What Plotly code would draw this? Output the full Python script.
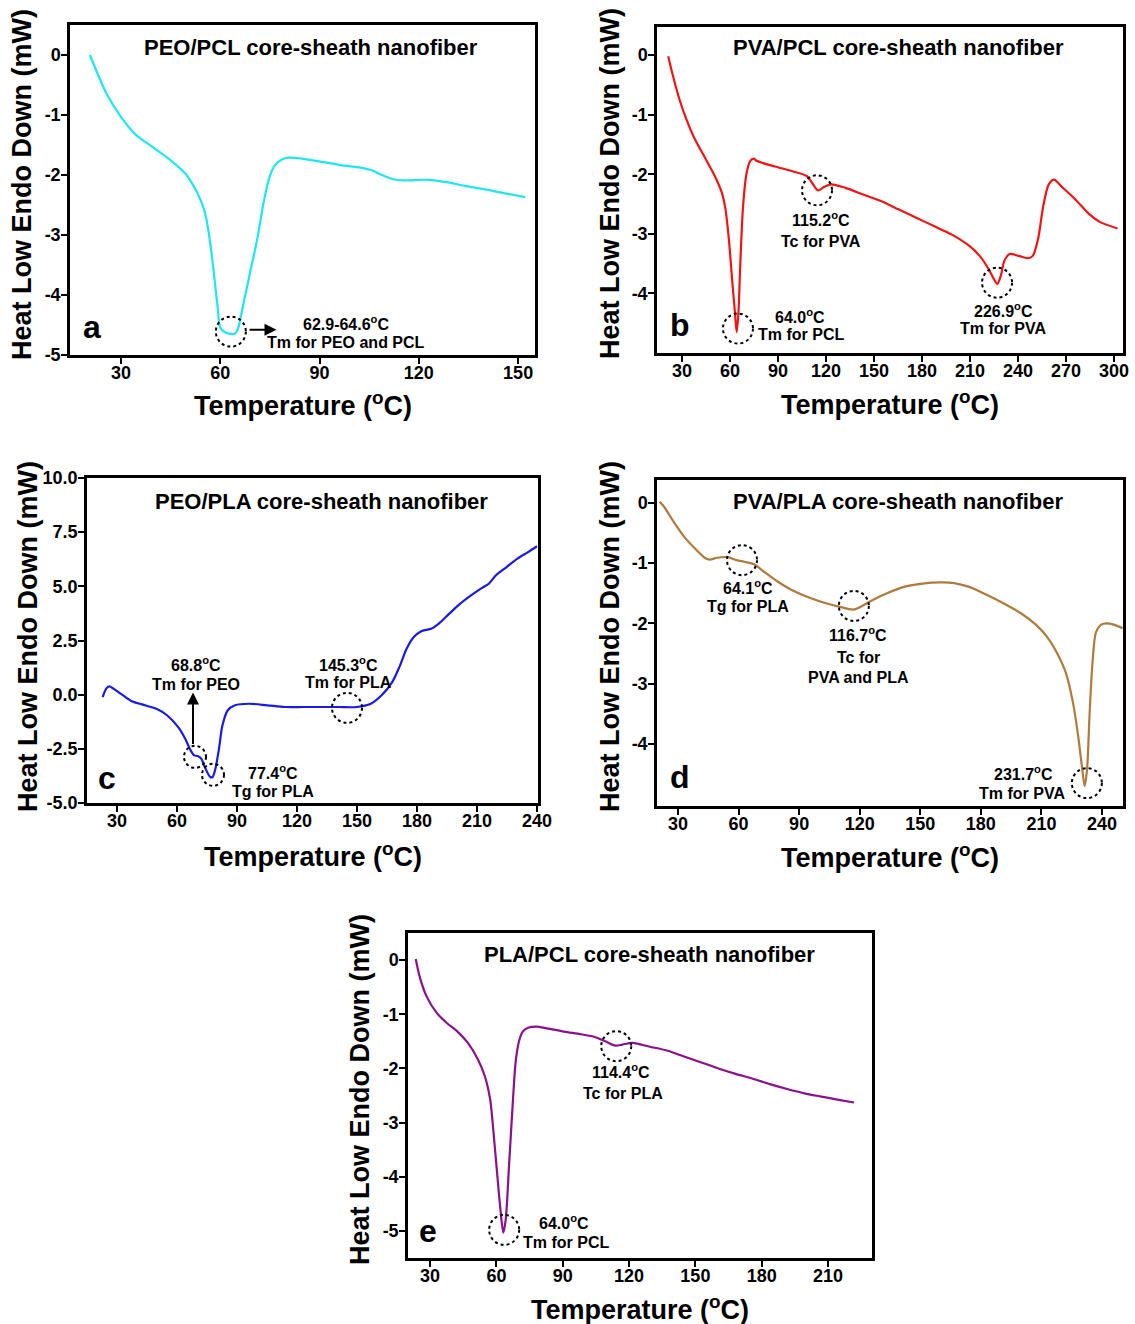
import plotly.graph_objects as go

W, H = 1135, 1324
FONT = "Liberation Sans, Arial, sans-serif"

# ---------------- data ----------------
a_T = [20.6, 25.7, 30, 34.3, 39.7, 45.1, 49.5, 52.7, 54.9, 55.9, 57.0, 58.1, 59.2, 60, 61.4, 64.05, 65.1,
       66.8, 68.9, 71.1, 73.2, 74.9, 76.5, 78.6, 80.8, 85.1, 90.5, 95.9, 101.4, 105.7, 108.9, 112.2, 115.4,
       123, 128.4, 133.8, 139.2, 144.6, 152.2]
a_Q = [0, -0.65, -1.03, -1.32, -1.54, -1.76, -1.98, -2.26, -2.54, -2.76, -3.15, -3.65, -4.2, -4.54, -4.62,
       -4.65, -4.6, -4.2, -3.65, -3.09, -2.43, -2.03, -1.84, -1.74, -1.71, -1.73, -1.78, -1.83, -1.87, -1.92,
       -2.0, -2.07, -2.09, -2.08, -2.12, -2.18, -2.23, -2.29, -2.37]

b_T = [21.4, 24.0, 28.5, 32.9, 37.3, 43.9, 50.5, 54.9, 57.2, 59.3, 61.5, 63.1, 64.2, 65.3, 66.4, 68.2, 70.4,
       72.6, 74.8, 77.0, 88.1, 99.1, 108, 111.2, 115, 119, 123.4, 132.2, 143.2, 154.3, 165.3, 176.4, 187.4,
       198.4, 209.4, 216, 221.6, 224.9, 227.1, 229.3, 231.5, 234.8, 240.4, 245.9, 249.2, 252.5, 255.8, 259.2,
       262.5, 266.9, 275.7, 284.5, 291.1, 302.2]
b_Q = [-0.02, -0.31, -0.75, -1.09, -1.37, -1.7, -2.03, -2.31, -2.59, -3.09, -3.82, -4.32, -4.65, -4.32, -3.54,
       -2.53, -1.98, -1.78, -1.74, -1.78, -1.87, -1.95, -2.03, -2.14, -2.27, -2.21, -2.17, -2.23, -2.34, -2.45,
       -2.59, -2.73, -2.87, -3.01, -3.2, -3.37, -3.59, -3.76, -3.84, -3.7, -3.45, -3.34, -3.37, -3.41, -3.37,
       -3.09, -2.53, -2.17, -2.09, -2.2, -2.42, -2.67, -2.8, -2.91]

c_T = [22.85, 24.6, 26.1, 28.2, 31.8, 37.1, 42.5, 49.7, 55.0, 60.5, 64.1, 66.8, 68.6, 70.3, 72.1, 73.9, 76.6,
       77.8, 79.2, 81.0, 82.7, 85.4, 89.0, 96.1, 105.1, 114, 123, 131.9, 140.8, 150, 156.9, 162.3, 167.6,
       171.2, 174.8, 178.4, 181.9, 187.3, 190.9, 196.2, 201.6, 207.0, 212.3, 215.9, 219.5, 224.8, 230.2,
       235.5, 240]
c_Q = [-0.11, 0.28, 0.38, 0.28, 0.05, -0.29, -0.45, -0.65, -0.95, -1.49, -2.03, -2.57, -2.8, -2.83, -2.95,
       -3.34, -3.8, -3.8, -3.42, -2.49, -1.42, -0.72, -0.49, -0.42, -0.49, -0.57, -0.57, -0.57, -0.57, -0.57,
       -0.42, -0.03, 0.58, 1.28, 2.12, 2.66, 2.92, 3.05, 3.28, 3.74, 4.2, 4.58, 4.92, 5.12, 5.51, 5.89, 6.28,
       6.58, 6.85]

d_T = [20.9, 23.0, 28.2, 33.5, 38.8, 43.2, 45.8, 49.3, 54.6, 59, 63.3, 67.7, 72.1, 79.1, 86.1, 94.9, 103.7,
       110.7, 116.8, 121.2, 126.5, 133.5, 142.3, 151.1, 159.8, 166.8, 173.9, 182.6, 191.4, 200.2, 207.2,
       212.5, 217.7, 222.1, 225.6, 228.2, 230.0, 231.4, 232.6, 233.8, 235.3, 237, 239.6, 242.3, 245.8, 250.2]
d_Q = [0.02, -0.06, -0.33, -0.58, -0.77, -0.91, -0.94, -0.91, -0.9, -0.95, -0.98, -1.02, -1.13, -1.3, -1.44,
       -1.57, -1.67, -1.73, -1.77, -1.71, -1.61, -1.5, -1.39, -1.34, -1.32, -1.33, -1.39, -1.52, -1.67, -1.84,
       -2.02, -2.21, -2.49, -2.82, -3.31, -3.87, -4.36, -4.7, -4.42, -3.54, -2.65, -2.15, -2.02, -2.0, -2.02,
       -2.08]

e_T = [23.5, 25.3, 28.4, 33.1, 37.8, 42.4, 47.1, 51.7, 54.8, 57.2, 58.7, 60.3, 61.8, 63.1, 64.2, 65.7, 67.3,
       68.8, 70.4, 71.9, 74.3, 78.1, 82.8, 90.6, 98.3, 104.5, 109.2, 113.9, 117, 121.6, 129.4, 137.1, 144.9,
       152.7, 160.4, 168.2, 176, 183.7, 191.5, 199.3, 207, 214.8, 221.8]
e_Q = [0.02, -0.31, -0.67, -0.98, -1.17, -1.32, -1.53, -1.84, -2.15, -2.58, -3.19, -3.93, -4.6, -5.03, -4.79,
       -3.8, -2.7, -1.84, -1.47, -1.32, -1.25, -1.23, -1.26, -1.32, -1.37, -1.42, -1.5, -1.58, -1.56, -1.53,
       -1.6, -1.67, -1.78, -1.89, -2.0, -2.1, -2.19, -2.29, -2.38, -2.46, -2.52, -2.58, -2.63]

titles = ["PEO/PCL core-sheath nanofiber", "PVA/PCL core-sheath nanofiber", "PEO/PLA core-sheath nanofiber",
          "PVA/PLA core-sheath nanofiber", "PLA/PCL core-sheath nanofiber"]
letters = ["a", "b", "c", "d", "e"]
colors = ["#1EE6F0", "#F01414", "#1A1AE6", "#B07A3C", "#8C108C"]

a_xticks = [30, 60, 90, 120, 150]
b_xticks = [30, 60, 90, 120, 150, 180, 210, 240, 270, 300]
c_xticks = [30, 60, 90, 120, 150, 180, 210, 240]
d_xticks = [30, 60, 90, 120, 150, 180, 210, 240]
e_xticks = [30, 60, 90, 120, 150, 180, 210]
a_yticks = [0, -1, -2, -3, -4, -5]
b_yticks = [0, -1, -2, -3, -4]
c_yticks = [10.0, 7.5, 5.0, 2.5, 0.0, -2.5, -5.0]
d_yticks = [0, -1, -2, -3, -4]
e_yticks = [0, -1, -2, -3, -4, -5]

# ---------------- layout geometry (pixels) ----------------
panels = [
    dict(T=a_T, Q=a_Q, box=(70, 25, 535, 355), xr=[14.6, 155.1], yr=[-5.0, 0.5], xt=a_xticks, yt=a_yticks, yfmt="%d",
         letter=(92, 327), title=(311, 47), xtitle=(303, 404), ytitle=(22, 185)),
    dict(T=b_T, Q=b_Q, box=(657, 27, 1123, 353), xr=[14.4, 305.6], yr=[-5.0, 0.47], xt=b_xticks, yt=b_yticks, yfmt="%d",
         letter=(680, 325), title=(898, 47), xtitle=(890, 403), ytitle=(610, 184)),
    dict(T=c_T, Q=c_Q, box=(87, 478, 538, 803), xr=[15, 240.5], yr=[-5.0, 10.0], xt=c_xticks, yt=c_yticks, yfmt="%.1f",
         letter=(107, 778), title=(321, 501), xtitle=(313, 855), ytitle=(28, 637)),
    dict(T=d_T, Q=d_Q, box=(657, 480, 1123, 806), xr=[19.6, 250.4], yr=[-5.03, 0.38], xt=d_xticks, yt=d_yticks, yfmt="%d",
         letter=(680, 777), title=(898, 501), xtitle=(890, 856), ytitle=(610, 637)),
    dict(T=e_T, Q=e_Q, box=(408, 933, 872, 1258), xr=[20, 229.9], yr=[-5.5, 0.5], xt=e_xticks, yt=e_yticks, yfmt="%d",
         letter=(428, 1231), title=(649, 954), xtitle=(640, 1308), ytitle=(360, 1090)),
]


def px(x, y):
    return x / W, 1 - y / H


def label(x, y, text, size, angle=0):
    lx, ly = px(x, y)
    return dict(x=lx, y=ly, xref="paper", yref="paper", xanchor="center", yanchor="middle",
                text="<b>%s</b>" % text, textangle=angle, showarrow=False,
                font=dict(family=FONT, size=size, color="black"))


fig = go.Figure()
annotations = []
shapes = []

for i, p in enumerate(panels):
    n = "" if i == 0 else str(i + 1)
    xa, ya = "x" + n, "y" + n
    x0, y0, x1, y1 = p["box"]
    fig.add_trace(go.Scatter(x=p["T"], y=p["Q"], mode="lines", xaxis=xa, yaxis=ya,
                             line=dict(color=colors[i], width=2.2, shape="spline", smoothing=0.8),
                             showlegend=False, hoverinfo="skip"))
    common = dict(showline=True, linecolor="black", linewidth=2.5, mirror=True, ticks="outside",
                  ticklen=6, tickwidth=2, tickcolor="black", showgrid=False, zeroline=False,
                  automargin=False, tickfont=dict(family=FONT, size=18, color="black", weight="bold"))
    fig.layout["xaxis" + n] = dict(domain=[x0 / W, x1 / W], range=p["xr"], anchor=ya, ticklabelstandoff=-6,
                                   tickvals=p["xt"], ticktext=[str(v) for v in p["xt"]], **common)
    fig.layout["yaxis" + n] = dict(domain=[1 - y1 / H, 1 - y0 / H], range=p["yr"], anchor=xa, ticklabelstandoff=-3,
                                   tickvals=p["yt"], ticktext=[p["yfmt"] % v for v in p["yt"]], **common)

    annotations.append(label(*p["title"], titles[i], 22))
    annotations.append(label(*p["letter"], letters[i], 32))
    annotations.append(label(*p["xtitle"], "Temperature (<sup>o</sup>C)", 27))
    annotations.append(label(*p["ytitle"], "Heat Low Endo Down (mW)", 27, -90))

# ---------------- labels near events ----------------
labels = [
    ((346, 323), "62.9-64.6<sup>o</sup>C"), ((346, 342), "Tm for PEO and PCL"),
    ((800, 316), "64.0<sup>o</sup>C"), ((801, 334), "Tm for PCL"),
    ((821, 219), "115.2<sup>o</sup>C"), ((821, 242), "Tc for PVA"),
    ((1003, 310), "226.9<sup>o</sup>C"), ((1003, 329), "Tm for PVA"),
    ((196, 664), "68.8<sup>o</sup>C"), ((196, 684), "Tm for PEO"),
    ((348, 664), "145.3<sup>o</sup>C"), ((348, 682), "Tm for PLA"),
    ((273, 772), "77.4<sup>o</sup>C"), ((273, 791), "Tg for PLA"),
    ((748, 587), "64.1<sup>o</sup>C"), ((748, 606), "Tg for PLA"),
    ((858, 634), "116.7<sup>o</sup>C"), ((858, 657), "Tc for"), ((858, 677), "PVA and PLA"),
    ((1023, 773), "231.7<sup>o</sup>C"), ((1022, 793), "Tm for PVA"),
    ((564, 1222), "64.0<sup>o</sup>C"), ((566, 1242), "Tm for PCL"),
    ((621, 1071), "114.4<sup>o</sup>C"), ((623, 1093), "Tc for PLA"),
]
for (x, y), t in labels:
    annotations.append(label(x, y, t, 16))

# dashed circles at events (data coordinates, pixel size)
circles = [
    ("x", "y", 63.2, -4.61, 15),
    ("x2", "y2", 65.0, -4.59, 15), ("x2", "y2", 114.4, -2.27, 15), ("x2", "y2", 226.9, -3.82, 15),
    ("x3", "y3", 69.0, -2.87, 11), ("x3", "y3", 78.0, -3.7, 11), ("x3", "y3", 145.0, -0.61, 15),
    ("x4", "y4", 61.7, -0.95, 15), ("x4", "y4", 117.1, -1.71, 15), ("x4", "y4", 232.5, -4.65, 15),
    ("x5", "y5", 63.5, -4.98, 15), ("x5", "y5", 114.2, -1.59, 15),
]
for xr, yr, cx, cy, r in circles:
    shapes.append(dict(type="circle", xref=xr, yref=yr, xsizemode="pixel", ysizemode="pixel",
                       xanchor=cx, yanchor=cy, x0=-r, x1=r, y0=-r, y1=r,
                       line=dict(color="black", width=2, dash="dot")))

# arrows
annotations.append(dict(x=77.0, y=-4.58, ax=68.4, ay=-4.58, xref="x", yref="y", axref="x", ayref="y",
                        text="", showarrow=True, arrowhead=2, arrowsize=1.2, arrowwidth=2, arrowcolor="black"))
annotations.append(dict(x=68.0, y=0.1, ax=68.0, ay=-2.35, xref="x3", yref="y3", axref="x3", ayref="y3",
                        text="", showarrow=True, arrowhead=2, arrowsize=1.2, arrowwidth=2, arrowcolor="black"))

fig.update_layout(width=W, height=H, margin=dict(l=0, r=0, t=0, b=0), paper_bgcolor="white",
                  plot_bgcolor="white", annotations=annotations, shapes=shapes, template="none",
                  font=dict(family=FONT, color="black"))
fig.write_html("out.html", config={"displayModeBar": False},
               post_script="document.body.style.margin='0px';document.body.style.overflow='hidden';")
